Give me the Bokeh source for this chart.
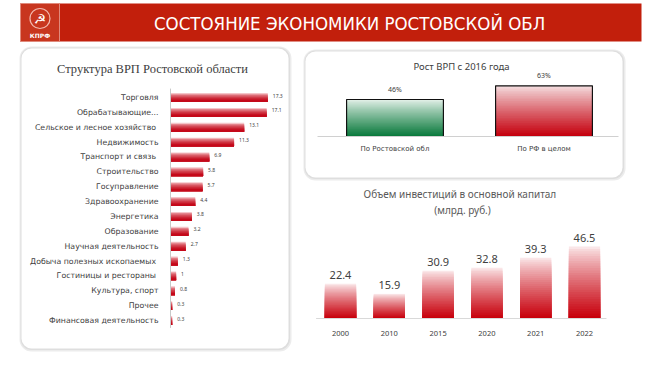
from bokeh.plotting import figure
from bokeh.models import Range1d, ColumnDataSource
from bokeh.core.properties import value
from bokeh.embed import file_html
from bokeh.resources import INLINE

W, H = 648, 380

# ---------------- data ----------------
header_title = "СОСТОЯНИЕ  ЭКОНОМИКИ  РОСТОВСКОЙ  ОБЛ"

sectors_title = "Структура ВРП Ростовской области"
sectors = ["Торговля", "Обрабатывающие...", "Сельское и лесное  хозяйство", "Недвижимость",
           "Транспорт  и связь", "Строительство", "Госуправление", "Здравоохранение",
           "Энергетика", "Образование", "Научная деятельность", "Добыча полезных  ископаемых",
           "Гостиницы  и рестораны", "Культура, спорт", "Прочее", "Финансовая деятельность"]
shares = [17.3, 17.1, 13.1, 11.3, 6.9, 5.8, 5.7, 4.4, 3.8, 3.2, 2.7, 1.3, 1.0, 0.8, 0.3, 0.3]

growth_title = "Рост ВРП с 2016 года"
growth_cats = ["По Ростовской обл", "По РФ в целом"]
growth_vals = [46, 63]

invest_title = ["Объем  инвестиций  в основной капитал", "(млрд. руб.)"]
years = ["2000", "2010", "2015", "2020", "2021", "2022"]
invest = [22.4, 15.9, 30.9, 32.8, 39.3, 46.5]

# ---------------- helpers ----------------
def xr(d0, p0, d1, p1):
    b = (p1 - p0) / (d1 - d0)
    a = p0 - b * d0
    return Range1d(start=(0 - a) / b, end=(W - a) / b)

def yr(d0, p0, d1, p1):
    b = (p1 - p0) / (d1 - d0)
    a = p0 - b * d0
    return Range1d(start=(H - a) / b, end=(0 - a) / b)

def hexmix(c1, c2, t):
    a = [int(c1[i:i + 2], 16) for i in (1, 3, 5)]
    b = [int(c2[i:i + 2], 16) for i in (1, 3, 5)]
    return "#%02x%02x%02x" % tuple(round(a[i] + (b[i] - a[i]) * t) for i in range(3))

FONT = value("Noto Sans")
WIDE = value("DejaVu Sans")

p = figure(width=W, height=H, output_backend="svg", toolbar_location=None,
           x_range=Range1d(0, W), y_range=Range1d(H, 0), min_border=0,
           outline_line_color=None, background_fill_color="white",
           border_fill_color="white")
p.axis.visible = False
p.grid.visible = False

p.extra_x_ranges = {
    "lx": xr(0, 170, 17.3, 267.3),
    "tx": xr(0, 394.5, 1, 543.5),
    "bx": xr(0, 340, 5, 584),
}
p.extra_y_ranges = {
    "ly": yr(0, 97, 15, 320),
    "ty": yr(0, 136, 46, 99),
    "by": yr(0, 318, 46.5, 246),
}

# ---------------- header ----------------
p.quad(left=[20], right=[641], top=[3], bottom=[41], fill_color="#c21f0c", line_color=None)
p.quad(left=[20], right=[59], top=[3], bottom=[41], fill_color="#c8361f", line_color="#e08a7c",
       line_width=1)
p.scatter(x=[39.5], y=[18], size=20, marker="circle", fill_color=None, line_color="#f2b8ae",
          line_width=1.2)
p.text(x=[39.5], y=[18.5], text=["☭"], text_font=WIDE, text_font_size="14px",
       text_color="white", text_align="center", text_baseline="middle")
p.text(x=[39.5], y=[35], text=["КПРФ"], text_font=WIDE, text_font_size="6px",
       text_font_style="bold", text_color="white", text_align="center", text_baseline="middle")
p.text(x=[357], y=[23], text=[header_title], text_font=value("DejaVu Sans Condensed, Roboto"),
       text_font_size="18.5px", text_color="white", text_align="center", text_baseline="middle")

# ---------------- panels ----------------
for (l, r, t, b) in [(21, 288, 48, 348), (305, 622, 51, 177)]:
    p.quad(left=[l - 2], right=[r + 3], top=[t - 2], bottom=[b + 3], fill_color="#ececec",
           line_color=None, border_radius=12)
    p.quad(left=[l - 1], right=[r + 1.5], top=[t - 1], bottom=[b + 1.5], fill_color="#dedede",
           line_color=None, border_radius=11)
    p.quad(left=[l], right=[r], top=[t], bottom=[b], fill_color="white",
           line_color=None, border_radius=10)

# ---------------- left: structure ----------------
p.text(x=[152], y=[68], text=[sectors_title],
       text_font=value("Liberation Serif, DejaVu Serif, serif"),
       text_font_size="12.5px", text_color="#404040", text_align="center", text_baseline="middle")

idx = list(range(len(sectors)))
K = 8
bh = 0.6
for k in range(K):
    t = k / (K - 1)
    col = hexmix("#f4c4c8", "#c4091a", min(1.0, t ** 0.6 * 1.1))
    p.hbar(y=[i + k * bh / (2 * K) for i in idx], left=0, right=shares,
           height=bh * (1 - k / K), fill_color=col, line_color=None,
           x_range_name="lx", y_range_name="ly")

p.segment(x0=[0], x1=[0], y0=[-0.6], y1=[15.5], line_color="#c8c8c8", line_width=1,
          x_range_name="lx", y_range_name="ly")

lsrc = ColumnDataSource(dict(y=idx, x=[0] * len(idx), v=shares, name=sectors,
                             lab=[f"{v:g}" for v in shares]))
p.text(x="x", y="y", text="name", source=lsrc, x_offset=-12, text_align="right",
       text_baseline="middle", text_font=WIDE, text_font_size="7.8px", text_color="#404040",
       x_range_name="lx", y_range_name="ly")
p.text(x="v", y="y", text="lab", source=lsrc, x_offset=5, y_offset=-2, text_align="left",
       text_baseline="middle", text_font=FONT, text_font_size="5px", text_color="#404040",
       x_range_name="lx", y_range_name="ly")

# ---------------- top right: growth ----------------
p.text(x=[461], y=[66], text=[growth_title], text_font=FONT, text_font_size="9.5px",
       text_color="#404040", text_align="center", text_baseline="middle")

gidx = [0, 1]
N = 30
for k in range(N):
    t = k / (N - 1)
    gcol = hexmix("#e0efe6", "#0b7a3d", t ** 0.9)
    rcol = hexmix("#f4dcde", "#c5000e", t ** 0.9)
    hi = [v * (1 - k / N) for v in growth_vals]
    p.vbar(x=gidx, bottom=0, top=hi, width=0.65, fill_color=[gcol, rcol], line_color=None,
           x_range_name="tx", y_range_name="ty")
p.vbar(x=gidx, top=growth_vals, width=0.65, fill_color=None, line_color="#111111",
       line_width=1.2, x_range_name="tx", y_range_name="ty")
p.segment(x0=[-0.52], x1=[1.5], y0=[0], y1=[0], line_color="#d0d0d0", line_width=1,
          x_range_name="tx", y_range_name="ty")
gsrc = ColumnDataSource(dict(x=gidx, v=growth_vals, name=growth_cats,
                             lab=[f"{v}%" for v in growth_vals], z=[0, 0]))
p.text(x="x", y="v", text="lab", source=gsrc, y_offset=-6, text_align="center",
       text_baseline="bottom", text_font=FONT, text_font_size="7px", text_color="#404040",
       x_range_name="tx", y_range_name="ty")
p.text(x="x", y="z", text="name", source=gsrc, y_offset=12, text_align="center",
       text_baseline="middle", text_font=WIDE, text_font_size="7px", text_color="#404040",
       x_range_name="tx", y_range_name="ty")

# ---------------- bottom right: investments ----------------
p.text(x=[462, 462], y=[193, 209], text=invest_title, text_font=FONT, text_font_size="10px",
       text_color="#595959", text_align="center", text_baseline="middle")

bidx = list(range(len(years)))
for k in range(N):
    t = k / (N - 1)
    col = hexmix("#fae6e8", "#c8000c", t ** 0.85)
    hi = [v * (1 - k / N) for v in invest]
    p.vbar(x=bidx, bottom=0, top=hi, width=0.64, fill_color=col, line_color=None,
           x_range_name="bx", y_range_name="by")
p.segment(x0=[-0.5], x1=[5.45], y0=[0], y1=[0], line_color="#d9d9d9", line_width=1,
          x_range_name="bx", y_range_name="by")
bsrc = ColumnDataSource(dict(x=bidx, v=invest, yr=years, lab=[f"{v:g}" for v in invest],
                             z=[0] * len(years)))
p.text(x="x", y="v", text="lab", source=bsrc, y_offset=-5, text_align="center",
       text_baseline="bottom", text_font=FONT, text_font_size="11px", text_color="#404040",
       x_range_name="bx", y_range_name="by")
p.text(x="x", y="z", text="yr", source=bsrc, y_offset=15, text_align="center",
       text_baseline="middle", text_font=FONT, text_font_size="7.5px", text_color="#404040",
       x_range_name="bx", y_range_name="by")

open("out.html", "w").write(file_html(p, INLINE))
